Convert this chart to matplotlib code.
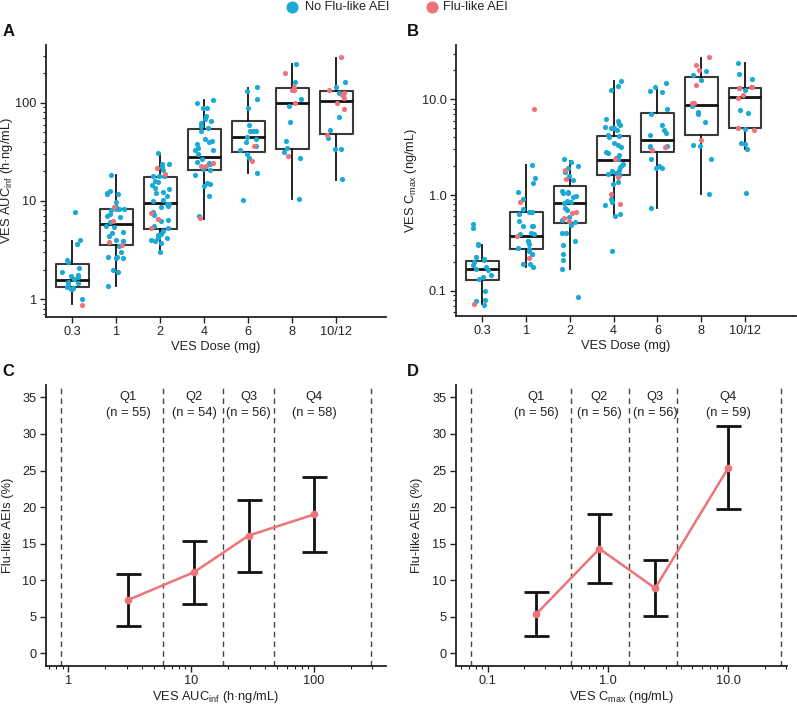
import numpy as np
import matplotlib
matplotlib.use("Agg")
import matplotlib.pyplot as plt
from matplotlib.ticker import LogLocator, NullFormatter
from matplotlib.lines import Line2D

plt.rcParams['font.family'] = ['Liberation Sans', 'DejaVu Sans']
plt.rcParams['mathtext.fontset'] = 'custom'
plt.rcParams['mathtext.rm'] = 'Liberation Sans'

BLUE = '#1CA9D6'
RED = '#EE7378'

# ---------------- data ----------------
doses = ['0.3', '1', '2', '4', '6', '8', '10/12']

# Panel A: AUCinf (h*ng/mL) individual values, per dose group
auc_no_flu = [
    [7.8, 4.0, 3.64, 2.48, 2.40, 2.07, 1.88, 1.77, 1.68, 1.73, 1.49, 1.40, 1.33, 1.26, 1.27, 1.30, 1.0, 1.45, 1.6],
    [18.6, 12.5, 11.9, 12.1, 11.8, 9.7, 8.7, 8.2, 8.2, 8.3, 8.7, 8.0, 7.1, 7.4, 6.8, 6.1, 5.4, 5.5, 4.8, 4.4,
     4.7, 3.9, 4.0, 3.9, 3.5, 3.0, 2.7, 2.7, 2.6, 2.6, 2.0, 1.9, 1.37],
    [30.6, 24.0, 24.0, 22.0, 20.5, 17.9, 17.9, 17.9, 15.9, 15.5, 14.7, 13.1, 13.5, 12.3, 12.1, 11.2, 10.3, 9.9,
     9.4, 9.4, 8.8, 8.7, 7.7, 7.2, 6.4, 6.2, 5.6, 5.3, 5.0, 4.6, 4.5, 4.2, 3.9, 4.0, 4.2, 3.0, 3.7],
    [100, 107, 89, 88, 68.7, 65, 62, 74, 55, 52, 43, 40, 41, 38, 33, 33, 24.5, 24, 24.8, 21, 20.5, 18.6,
     15.2, 14.8, 14.1, 11.2, 7.0, 30, 27, 35, 58],
    [147, 134, 110, 88, 60, 52, 52, 52, 44.7, 42.9, 40, 36.4, 33, 30, 27.7, 19.2, 10.3],
    [248, 162, 109, 93, 63.5, 41, 31.7, 34.5, 27.5, 10.6],
    [162, 147, 125, 72.5, 53, 44, 33.7, 33.7, 16.8],
]
auc_flu = [
    [0.875],
    [8.6, 6.2, 3.8, 3.55],
    [21.7, 18.9, 7.5, 6.6, 5.3],
    [24.5, 23.0, 22.9, 6.7],
    [36.4, 25.8],
    [204, 147, 136, 136, 101, 29],
    [292, 136, 127, 120, 112, 100, 87, 47],
]
# box statistics: whisker low, Q1, median, Q3, whisker high
auc_wlo = [0.88, 1.36, 2.97, 6.55, 19.2, 10.6, 16.5]
auc_q1 = [1.32, 3.56, 5.22, 20.6, 31.9, 34.2, 48.3]
auc_med = [1.56, 5.87, 9.6, 28.1, 45.0, 100, 104]
auc_q3 = [2.29, 8.35, 17.7, 53.9, 66.0, 143, 132]
auc_whi = [3.94, 18.3, 30.6, 107, 143, 248, 290]

# Panel B: Cmax (ng/mL)
cmax_no_flu = [
    [0.50, 0.456, 0.31, 0.30, 0.227, 0.216, 0.201, 0.21, 0.17, 0.178, 0.184, 0.133, 0.146, 0.138, 0.165,
     0.099, 0.081, 0.078, 0.071],
    [2.06, 1.52, 1.35, 1.07, 0.92, 0.71, 0.64, 0.67, 0.66, 0.48, 0.48, 0.48, 0.53, 0.40, 0.39, 0.39, 0.33,
     0.31, 0.33, 0.28, 0.26, 0.27, 0.24, 0.245, 0.19, 0.19, 0.175],
    [2.36, 2.19, 2.0, 1.9, 1.72, 1.57, 1.43, 1.11, 1.07, 1.04, 0.96, 0.98, 1.04, 0.86, 0.84, 0.82, 0.73,
     0.69, 0.59, 0.55, 0.52, 0.49, 0.40, 0.40, 0.33, 0.30, 0.24, 0.21, 0.17, 0.087],
    [15.5, 12.4, 13.7, 6.3, 5.9, 5.5, 5.4, 4.8, 5.0, 5.1, 5.0, 4.1, 4.2, 4.0, 3.5, 3.3, 3.2, 2.84, 2.77,
     2.6, 2.43, 2.36, 2.1, 2.06, 1.98, 1.82, 1.80, 1.71, 1.66, 1.61, 1.67, 1.38, 1.29, 0.91, 0.85, 0.79,
     0.63, 0.60, 0.26],
    [14.7, 13.5, 12.2, 11.8, 7.9, 7.1, 5.4, 4.77, 4.4, 4.2, 3.25, 3.25, 3.2, 2.36, 2.03, 1.91, 1.9, 0.74],
    [19.9, 18.0, 16.1, 8.5, 7.3, 6.95, 5.85, 3.28, 3.33, 2.36, 1.02],
    [24.1, 18.2, 16.2, 12.4, 13.0, 7.2, 7.7, 4.9, 3.46, 3.38, 3.03, 1.06],
]
cmax_flu = [
    [0.073],
    [7.85, 0.85, 0.376, 0.22],
    [1.84, 1.48, 0.66, 0.65, 0.57, 0.53],
    [2.36, 1.54, 1.02, 0.81],
    [3.2, 2.95],
    [27.5, 22.7, 20.0, 14.1, 9.1, 9.1, 3.79],
    [11.0, 13.4, 13.5, 13.0, 10.4, 4.98, 4.8],
]
cmax_wlo = [0.072, 0.178, 0.170, 0.618, 0.737, 1.02, 3.03]
cmax_q1 = [0.131, 0.270, 0.514, 1.62, 2.79, 4.24, 5.01]
cmax_med = [0.167, 0.376, 0.832, 2.32, 3.73, 8.73, 10.5]
cmax_q3 = [0.206, 0.664, 1.25, 4.14, 7.25, 17.1, 13.2]
cmax_whi = [0.30, 2.06, 2.27, 15.5, 13.2, 27.3, 24.0]

# Panel C: flu-like AEIs by AUC quartile
c_labels = ['Q1', 'Q2', 'Q3', 'Q4']
c_n = [55, 54, 56, 58]
c_x = [3.08, 10.6, 29.4, 101]
c_pct = [7.3, 11.1, 16.1, 19.0]
c_lo = [3.7, 6.8, 11.1, 13.8]
c_hi = [10.8, 15.4, 21.0, 24.1]
c_bounds = [0.87, 5.9, 18.3, 47.3, 290]

# Panel D: flu-like AEIs by Cmax quartile
d_labels = ['Q1', 'Q2', 'Q3', 'Q4']
d_n = [56, 56, 56, 59]
d_x = [0.254, 0.848, 2.46, 10.0]
d_pct = [5.4, 14.3, 8.9, 25.4]
d_lo = [2.3, 9.6, 5.1, 19.7]
d_hi = [8.4, 19.0, 12.8, 31.1]
d_bounds = [0.0726, 0.49, 1.49, 3.77, 27.2]

legend_labels = ['No Flu-like AEI', 'Flu-like AEI']

# ---------------- figure ----------------
W, H = 797, 709
fig = plt.figure(figsize=(W / 100, H / 100), dpi=100)
axA = fig.add_axes([0.0573, 0.5533, 0.4270, 0.3832])
axB = fig.add_axes([0.5718, 0.5543, 0.4266, 0.3822])
axC = fig.add_axes([0.0573, 0.0611, 0.4266, 0.3959])
axD = fig.add_axes([0.5718, 0.0611, 0.4153, 0.3959])

FS_TICK = 9.2
FS_LAB = 9.3


def style(ax):
    for s in ['top', 'right']:
        ax.spines[s].set_visible(False)
    for s in ['left', 'bottom']:
        ax.spines[s].set_linewidth(1.3)
        ax.spines[s].set_color('#222222')
    ax.tick_params(which='major', direction='out', length=4, width=1.0, labelsize=FS_TICK, colors='#222222',
                   pad=2.5)
    ax.tick_params(which='minor', direction='out', length=2, width=0.8, colors='#222222')


rng = np.random.default_rng(7)


def box_panel(ax, no_flu, flu, wlo, q1, med, q3, whi, ticks, ticklabels, ylim, xlim, ylabel, ylab_x):
    stats = []
    for i in range(len(doses)):
        stats.append(dict(whislo=wlo[i], q1=q1[i], med=med[i], q3=q3[i], whishi=whi[i], fliers=[]))
    ax.bxp(stats, positions=range(len(doses)), widths=0.75, showfliers=False, showcaps=False,
           boxprops=dict(color='#3a3a3a', linewidth=1.5),
           medianprops=dict(color='#111111', linewidth=2.0),
           whiskerprops=dict(color='#111111', linewidth=1.3))
    for i in range(len(doses)):
        vb = np.array(no_flu[i])
        vr = np.array(flu[i])
        ax.scatter(i + rng.uniform(-0.22, 0.22, len(vb)), vb, s=14, color=BLUE, zorder=3, linewidths=0)
        ax.scatter(i + rng.uniform(-0.22, 0.22, len(vr)), vr, s=14, color=RED, zorder=3, linewidths=0)
    ax.set_yscale('log')
    ax.set_ylim(*ylim)
    ax.set_xlim(*xlim)
    ax.set_yticks(ticks)
    ax.set_yticklabels(ticklabels)
    ax.yaxis.set_minor_locator(LogLocator(base=10, subs=np.arange(2, 10)))
    ax.yaxis.set_minor_formatter(NullFormatter())
    ax.set_xticks(range(len(doses)))
    ax.set_xticklabels(doses)
    ax.set_xlabel('VES Dose (mg)', fontsize=FS_LAB, labelpad=2, color='#222222')
    ax.set_ylabel(ylabel, fontsize=FS_LAB, color='#222222')
    ax.yaxis.set_label_coords(ylab_x, 0.5)
    style(ax)


box_panel(axA, auc_no_flu, auc_flu, auc_wlo, auc_q1, auc_med, auc_q3, auc_whi,
          [1, 10, 100], ['1', '10', '100'], (0.66, 390), (-0.6, 7.13),
          r'VES AUC$_{\mathregular{inf}}$ (h·ng/mL)', -0.091)
box_panel(axB, cmax_no_flu, cmax_flu, cmax_wlo, cmax_q1, cmax_med, cmax_q3, cmax_whi,
          [0.1, 1, 10], ['0.1', '1.0', '10.0'], (0.0545, 36.9), (-0.61, 7.16),
          r'VES C$_{\mathregular{max}}$ (ng/mL)', -0.107)


def quart_panel(ax, x, pct, lo, hi, bounds, labels, ns, xlim, ticks, ticklabels, xlabel, ylab_x):
    for b in bounds:
        ax.axvline(b, color='#444444', linestyle=(0, (4, 3)), linewidth=1.0, zorder=1)
    pct = np.array(pct)
    yerr = np.vstack([pct - np.array(lo), np.array(hi) - pct])
    ax.errorbar(x, pct, yerr=yerr, fmt='none', ecolor='#111111', elinewidth=2.0, capsize=9, capthick=2.0,
                zorder=2)
    ax.plot(x, pct, color=RED, linewidth=1.8, marker='o', markersize=4.5, zorder=3)
    for xi, lab, n in zip(x, labels, ns):
        ax.text(xi, 35.1, lab, ha='center', va='center', fontsize=FS_LAB, color='#222222')
        ax.text(xi, 32.9, f'(n = {n})', ha='center', va='center', fontsize=FS_LAB, color='#222222')
    ax.set_xscale('log')
    ax.set_xlim(*xlim)
    ax.set_ylim(-1.7, 36.7)
    ax.set_yticks(range(0, 36, 5))
    ax.set_xticks(ticks)
    ax.set_xticklabels(ticklabels)
    ax.xaxis.set_minor_locator(LogLocator(base=10, subs=np.arange(2, 10)))
    ax.xaxis.set_minor_formatter(NullFormatter())
    ax.set_xlabel(xlabel, fontsize=FS_LAB, labelpad=2, color='#222222')
    ax.set_ylabel('Flu-like AEIs (%)', fontsize=FS_LAB, color='#222222')
    ax.yaxis.set_label_coords(ylab_x, 0.5)
    style(ax)


quart_panel(axC, c_x, c_pct, c_lo, c_hi, c_bounds, c_labels, c_n, (0.655, 384), [1, 10, 100],
            ['1', '10', '100'], r'VES AUC$_{\mathregular{inf}}$ (h·ng/mL)', -0.093)
quart_panel(axD, d_x, d_pct, d_lo, d_hi, d_bounds, d_labels, d_n, (0.0542, 30.5), [0.1, 1, 10],
            ['0.1', '1.0', '10.0'], r'VES C$_{\mathregular{max}}$ (ng/mL)', -0.099)

# panel letters
for lab, xx, yy in [('A', 0.003, 1 - 31.7 / H), ('B', 0.511, 1 - 31.7 / H),
                    ('C', 0.003, 1 - 371.7 / H), ('D', 0.511, 1 - 371.7 / H)]:
    fig.text(xx, yy, lab, fontsize=12, fontweight='bold', va='center', ha='left', color='#111111')

# legend (top, centred)
ly = 1 - 7.0 / H
for (mx, tx), col, lab in zip([(291.7, 305), (432.3, 443)], [BLUE, RED], legend_labels):
    fig.add_artist(Line2D([mx / W], [ly], marker='o', linestyle='none', color=col, markersize=7.7,
                          transform=fig.transFigure))
    fig.text(tx / W, ly - 3.5 / H, lab, fontsize=9.2, va='baseline', ha='left', color='#222222')

fig.savefig('out.png', dpi=100)
